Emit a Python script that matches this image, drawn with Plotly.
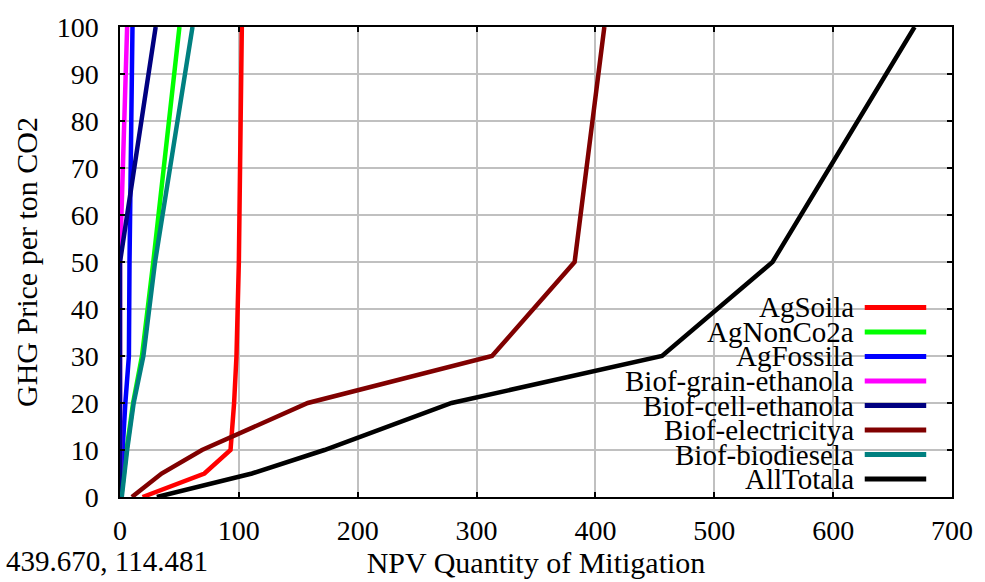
import plotly.graph_objects as go

# GHG price levels ($ per ton CO2) at which mitigation was evaluated
price = [0, 5, 10, 20, 30, 50, 100]

# NPV quantity of mitigation by source at each price level
ag_soil = [19, 71, 93, 96, 98, 100, 102.5]
ag_nonco2 = [1, 3, 5.5, 11, 18.5, 28, 50]
ag_fossil = [0.5, 1, 2.2, 4.5, 7.5, 8, 10.5]
grain_ethanol = [0, 0, 0, 0, 0, 0, 6]
cell_ethanol = [0, 0, 0, 0, 0, 0, 30]
electricity = [10, 35, 69, 158, 313, 382.5, 407.5]
biodiesel = [1.5, 3.5, 6, 11.5, 19.7, 29.5, 61]
all_total = [31, 111, 172, 279, 456, 549, 668.5]

series_names = ["AgSoila", "AgNonCo2a", "AgFossila", "Biof-grain-ethanola",
                "Biof-cell-ethanola", "Biof-electricitya", "Biof-biodiesela", "AllTotala"]
series_values = [ag_soil, ag_nonco2, ag_fossil, grain_ethanol,
                 cell_ethanol, electricity, biodiesel, all_total]
series_colors = ["#ff0000", "#00ff00", "#0000ff", "#ff00ff",
                 "#000080", "#800000", "#008080", "#000000"]

x_ticks = [0, 100, 200, 300, 400, 500, 600, 700]
y_ticks = [0, 10, 20, 30, 40, 50, 60, 70, 80, 90, 100]

W, H = 985, 582
ML, MR, MT, MB = 120, 26, 18, 83
PW, PH = W - ML - MR, H - MT - MB
SERIF = "Liberation Serif"


def px_x(p):
    return (p - ML) / PW


def px_y(p):
    return (H - MB - p) / PH


def serif_font(size=29):
    return dict(family=SERIF, size=size, color="black")


fig = go.Figure()
for name, vals, col in zip(series_names, series_values, series_colors):
    fig.add_trace(go.Scatter(x=vals, y=price, mode="lines", name=name,
                             line=dict(color=col, width=4.5),
                             showlegend=False, hoverinfo="skip"))

# white backing behind the legend block (above the grid, below the lines)
shapes = [dict(type="rect", xref="paper", yref="paper",
               x0=px_x(603), x1=1.0, y0=0.0, y1=px_y(303),
               fillcolor="white", line=dict(width=0), layer="between")]
annotations = []
row0, row_step = 305, 25.1
for i, (name, col) in enumerate(zip(series_names, series_colors)):
    yc = px_y(row0 + i * row_step)
    annotations.append(dict(x=px_x(861), y=yc, xref="paper", yref="paper",
                            text=name, showarrow=False, xanchor="right",
                            yanchor="middle", borderpad=0, font=serif_font()))
    shapes.append(dict(type="line", xref="paper", yref="paper",
                       x0=px_x(871), x1=px_x(933), y0=yc, y1=yc,
                       line=dict(color=col, width=5), layer="above"))

# cursor coordinate readout
annotations.append(dict(x=px_x(3), y=px_y(564), xref="paper", yref="paper",
                        text="439.670, 114.481", showarrow=False, xanchor="left",
                        yanchor="middle", font=serif_font()))

fig.update_layout(
    width=W, height=H,
    margin=dict(l=ML, r=MR, t=MT, b=MB),
    paper_bgcolor="white", plot_bgcolor="white",
    font=serif_font(),
    shapes=shapes,
    annotations=annotations,
)

for ax, ticks, rng, title, lstand, tstand in (
        (fig.update_xaxes, x_ticks, [0, 700], "NPV Quantity of Mitigation", 8, 3),
        (fig.update_yaxes, y_ticks, [0, 100], "GHG Price per ton CO2", 14, 10)):
    ax(range=rng, tickvals=ticks, ticklabelstandoff=lstand,
       title_text=title, title_standoff=tstand, title_font=serif_font(30),
       tickfont=serif_font(28),
       showline=True, linecolor="black", linewidth=1.5, mirror="ticks",
       ticks="inside", ticklen=5, tickwidth=1.5, tickcolor="black",
       showgrid=True, gridcolor="#c0c0c0", gridwidth=2, zeroline=False)

fig.write_html("out.html")
